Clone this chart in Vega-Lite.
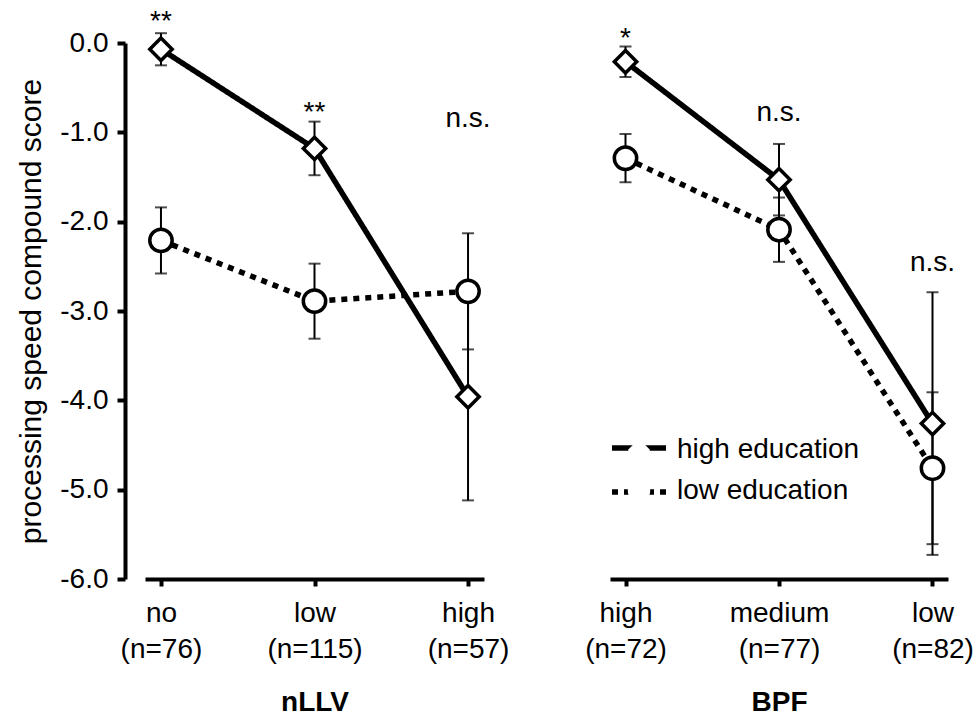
{
  "$schema": "https://vega.github.io/schema/vega-lite/v6.json",
  "padding": {"left": 16, "top": 8, "right": 0, "bottom": 0},
  "bounds": "flush",
  "spacing": 126,
  "config": {
    "font": "Liberation Sans",
    "view": {"stroke": null},
    "axis": {"domainColor": "black", "domainWidth": 4, "tickColor": "black", "tickWidth": 4, "labelColor": "black", "labelFontSize": 28, "titleColor": "black", "titleFontSize": 28, "grid": false, "labelFont": "Liberation Sans", "titleFont": "Liberation Sans"}
  },
  "datasets": {
    "pts": [
      {"panel": "nLLV", "x": "no (n=76)", "education": "high education", "mean": -0.07, "lo": -0.25, "hi": 0.11},
      {"panel": "nLLV", "x": "low (n=115)", "education": "high education", "mean": -1.18, "lo": -1.48, "hi": -0.88},
      {"panel": "nLLV", "x": "high (n=57)", "education": "high education", "mean": -3.96, "lo": -5.12, "hi": -2.80},
      {"panel": "nLLV", "x": "no (n=76)", "education": "low education", "mean": -2.21, "lo": -2.58, "hi": -1.84},
      {"panel": "nLLV", "x": "low (n=115)", "education": "low education", "mean": -2.89, "lo": -3.31, "hi": -2.47},
      {"panel": "nLLV", "x": "high (n=57)", "education": "low education", "mean": -2.78, "lo": -3.43, "hi": -2.13},
      {"panel": "BPF", "x": "high (n=72)", "education": "high education", "mean": -0.21, "lo": -0.38, "hi": -0.04},
      {"panel": "BPF", "x": "medium (n=77)", "education": "high education", "mean": -1.53, "lo": -1.93, "hi": -1.13},
      {"panel": "BPF", "x": "low (n=82)", "education": "high education", "mean": -4.26, "lo": -5.73, "hi": -2.79},
      {"panel": "BPF", "x": "high (n=72)", "education": "low education", "mean": -1.29, "lo": -1.56, "hi": -1.02},
      {"panel": "BPF", "x": "medium (n=77)", "education": "low education", "mean": -2.09, "lo": -2.45, "hi": -1.73},
      {"panel": "BPF", "x": "low (n=82)", "education": "low education", "mean": -4.76, "lo": -5.61, "hi": -3.91}
    ],
    "sig": [
      {"panel": "nLLV", "x": "no (n=76)", "sig": "**", "sig_y": 0.14},
      {"panel": "nLLV", "x": "low (n=115)", "sig": "**", "sig_y": -0.87},
      {"panel": "nLLV", "x": "high (n=57)", "sig": "n.s.", "sig_y": -0.94},
      {"panel": "BPF", "x": "high (n=72)", "sig": "*", "sig_y": -0.04},
      {"panel": "BPF", "x": "medium (n=77)", "sig": "n.s.", "sig_y": -0.87},
      {"panel": "BPF", "x": "low (n=82)", "sig": "n.s.", "sig_y": -2.55}
    ]
  },
  "hconcat": [
    {
      "width": 339,
      "height": 536,
      "encoding": {
        "x": {"field": "x", "type": "ordinal", "sort": null,
          "scale": {"type": "point", "domain": ["no (n=76)", "low (n=115)", "high (n=57)"], "padding": 0.104},
          "axis": {"title": "nLLV", "titleFontWeight": "bold", "labelExpr": "split(datum.label, ' ')", "labelAngle": 0, "tickSize": 7, "labelPadding": 13, "labelLineHeight": 36, "titlePadding": 25}}
      },
      "layer": [
        {
          "data": {"name": "pts"},
          "transform": [{"filter": "datum.panel === 'nLLV'"}],
          "mark": {"type": "rule", "color": "black", "strokeWidth": 2},
          "encoding": {
            "y": {"field": "lo", "type": "quantitative", "title": "processing speed compound score", "scale": {"domain": [-6, 0], "nice": false},
              "axis": {"tickCount": 7, "labelExpr": "(datum.value < 0 ? '-' : '') + format(abs(datum.value), '.1f')", "offset": 20, "tickSize": 8, "labelPadding": 9, "titlePadding": 13, "titleFontWeight": "normal", "titleFontSize": 30}},
            "y2": {"field": "hi"}
          }
        },
        {
          "data": {"name": "pts"},
          "transform": [{"filter": "datum.panel === 'nLLV'"}],
          "mark": {"type": "tick", "color": "black", "size": 12, "thickness": 2, "orient": "horizontal"},
          "encoding": {"y": {"field": "lo", "type": "quantitative", "title": "processing speed compound score", "scale": {"domain": [-6, 0], "nice": false}}}
        },
        {
          "data": {"name": "pts"},
          "transform": [{"filter": "datum.panel === 'nLLV'"}],
          "mark": {"type": "tick", "color": "black", "size": 12, "thickness": 2, "orient": "horizontal"},
          "encoding": {"y": {"field": "hi", "type": "quantitative", "title": "processing speed compound score", "scale": {"domain": [-6, 0], "nice": false}}}
        },
        {
          "data": {"name": "pts"},
          "transform": [{"filter": "datum.panel === 'nLLV'"}],
          "mark": {"type": "line", "color": "black", "strokeWidth": 5.5, "strokeCap": "butt"},
          "encoding": {
            "y": {"field": "mean", "type": "quantitative", "title": "processing speed compound score", "scale": {"domain": [-6, 0], "nice": false}},
            "strokeDash": {"field": "education", "type": "nominal", "scale": {"domain": ["high education", "low education"], "range": [[1, 0], [6, 6]]},
              "legend": {"orient": "none", "legendX": 464, "legendY": 375, "title": null, "symbolType": "stroke", "symbolSize": 2916, "symbolStrokeWidth": 5.5, "symbolStrokeColor": "black", "symbolOpacity": 1, "labelFontSize": 28, "labelFont": "Liberation Sans", "labelExpr": "''", "labelLimit": 0, "rowPadding": -19, "padding": 0, "zindex": 1}},
            "order": {"value": null}
          }
        },
        {
          "data": {"name": "pts"},
          "transform": [{"filter": "datum.panel === 'nLLV'"}],
          "mark": {"type": "point", "filled": false, "fill": "white", "fillOpacity": 1, "stroke": "black", "strokeWidth": 3.5, "size": 500, "opacity": 1},
          "encoding": {
            "y": {"field": "mean", "type": "quantitative", "title": "processing speed compound score", "scale": {"domain": [-6, 0], "nice": false}},
            "shape": {"field": "education", "type": "nominal", "scale": {"range": ["diamond", "circle"]},
              "legend": {"orient": "none", "legendX": 480, "legendY": 393, "title": null, "symbolSize": 500, "symbolStrokeWidth": 3.5, "symbolStrokeColor": "black", "symbolFillColor": "white", "symbolOpacity": 1, "labelFontSize": 28, "labelColor": "black", "labelFont": "Liberation Sans", "labelOffset": 24, "labelLimit": 0, "rowPadding": 3, "padding": 0, "zindex": 2,
                "encode": {"symbols": {"stroke": {"value": "black"}, "strokeWidth": {"value": 3.5}, "fill": {"value": "white"}, "strokeOpacity": {"value": 1}}}}}
          }
        },
        {
          "data": {"name": "sig"},
          "transform": [{"filter": "datum.panel === 'nLLV'"}],
          "mark": {"type": "text", "fontSize": 28, "baseline": "alphabetic", "align": "center", "color": "black"},
          "encoding": {
            "y": {"field": "sig_y", "type": "quantitative", "title": "processing speed compound score", "scale": {"domain": [-6, 0], "nice": false}},
            "text": {"field": "sig"}
          }
        }
      ]
    },
    {
      "width": 338,
      "height": 536,
      "encoding": {
        "x": {"field": "x", "type": "ordinal", "sort": null,
          "scale": {"type": "point", "domain": ["high (n=72)", "medium (n=77)", "low (n=82)"], "padding": 0.101},
          "axis": {"title": "BPF", "titleFontWeight": "bold", "labelExpr": "split(datum.label, ' ')", "labelAngle": 0, "tickSize": 7, "labelPadding": 13, "labelLineHeight": 36, "titlePadding": 25}}
      },
      "layer": [
        {
          "data": {"name": "pts"},
          "transform": [{"filter": "datum.panel === 'BPF'"}],
          "mark": {"type": "rule", "color": "black", "strokeWidth": 2},
          "encoding": {
            "y": {"field": "lo", "type": "quantitative", "scale": {"domain": [-6, 0], "nice": false}, "axis": null},
            "y2": {"field": "hi"}
          }
        },
        {
          "data": {"name": "pts"},
          "transform": [{"filter": "datum.panel === 'BPF'"}],
          "mark": {"type": "tick", "color": "black", "size": 12, "thickness": 2, "orient": "horizontal"},
          "encoding": {"y": {"field": "lo", "type": "quantitative", "scale": {"domain": [-6, 0], "nice": false}, "axis": null}}
        },
        {
          "data": {"name": "pts"},
          "transform": [{"filter": "datum.panel === 'BPF'"}],
          "mark": {"type": "tick", "color": "black", "size": 12, "thickness": 2, "orient": "horizontal"},
          "encoding": {"y": {"field": "hi", "type": "quantitative", "scale": {"domain": [-6, 0], "nice": false}, "axis": null}}
        },
        {
          "data": {"name": "pts"},
          "transform": [{"filter": "datum.panel === 'BPF'"}],
          "mark": {"type": "line", "color": "black", "strokeWidth": 5.5, "strokeCap": "butt"},
          "encoding": {
            "y": {"field": "mean", "type": "quantitative", "scale": {"domain": [-6, 0], "nice": false}, "axis": null},
            "strokeDash": {"field": "education", "type": "nominal", "scale": {"domain": ["high education", "low education"], "range": [[1, 0], [6, 6]]},
              "legend": {"orient": "none", "legendX": 464, "legendY": 375, "title": null, "symbolType": "stroke", "symbolSize": 2916, "symbolStrokeWidth": 5.5, "symbolStrokeColor": "black", "symbolOpacity": 1, "labelFontSize": 28, "labelFont": "Liberation Sans", "labelExpr": "''", "labelLimit": 0, "rowPadding": -19, "padding": 0, "zindex": 1}},
            "order": {"value": null}
          }
        },
        {
          "data": {"name": "pts"},
          "transform": [{"filter": "datum.panel === 'BPF'"}],
          "mark": {"type": "point", "filled": false, "fill": "white", "fillOpacity": 1, "stroke": "black", "strokeWidth": 3.5, "size": 500, "opacity": 1},
          "encoding": {
            "y": {"field": "mean", "type": "quantitative", "scale": {"domain": [-6, 0], "nice": false}, "axis": null},
            "shape": {"field": "education", "type": "nominal", "scale": {"range": ["diamond", "circle"]},
              "legend": {"orient": "none", "legendX": 480, "legendY": 393, "title": null, "symbolSize": 500, "symbolStrokeWidth": 3.5, "symbolStrokeColor": "black", "symbolFillColor": "white", "symbolOpacity": 1, "labelFontSize": 28, "labelColor": "black", "labelFont": "Liberation Sans", "labelOffset": 24, "labelLimit": 0, "rowPadding": 3, "padding": 0, "zindex": 2,
                "encode": {"symbols": {"stroke": {"value": "black"}, "strokeWidth": {"value": 3.5}, "fill": {"value": "white"}, "strokeOpacity": {"value": 1}}}}}
          }
        },
        {
          "data": {"name": "sig"},
          "transform": [{"filter": "datum.panel === 'BPF'"}],
          "mark": {"type": "text", "fontSize": 28, "baseline": "alphabetic", "align": "center", "color": "black"},
          "encoding": {
            "y": {"field": "sig_y", "type": "quantitative", "scale": {"domain": [-6, 0], "nice": false}, "axis": null},
            "text": {"field": "sig"}
          }
        }
      ]
    }
  ]
}
